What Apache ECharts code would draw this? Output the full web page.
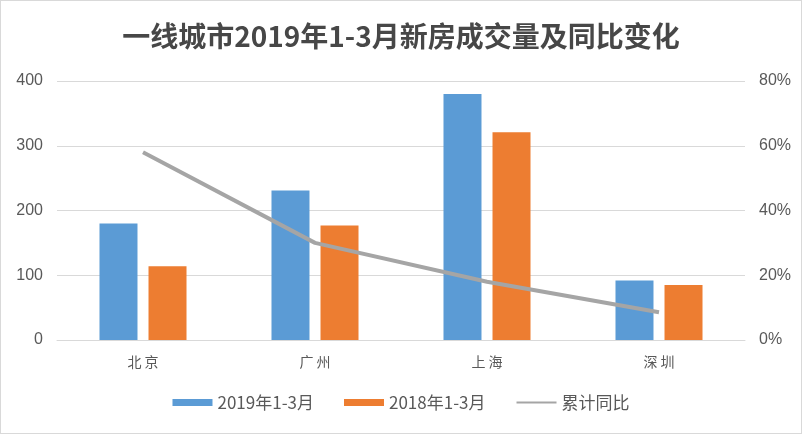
<!DOCTYPE html>
<html><head><meta charset="utf-8">
<script src="https://cdn.jsdelivr.net/npm/echarts@6/dist/echarts.min.js"></script>
<style>html,body{margin:0;padding:0;background:#fff}#c{width:800px;height:432px;border:1px solid #d9d9d9}</style>
</head><body><div id="c"></div>
<script>
const categories = ['北京', '广州', '上海', '深圳'];
const sales2019 = [180, 231, 380, 92];
const sales2018 = [114, 177, 321, 85];
const yoyPct = [58, 30, 18, 8.6];
const leftTicks = [0, 100, 200, 300, 400];
const rightTicks = [0, 20, 40, 60, 80];

const chart = echarts.init(document.getElementById('c'));
const txt = '#595959';
chart.setOption({
  animation: false,
  title: {
    text: '一线城市2019年1-3月新房成交量及同比变化',
    left: 'center', top: 16,
    textStyle: { fontFamily: 'Noto Sans CJK SC', fontWeight: 'bold', fontSize: 28, color: '#474747' }
  },
  legend: {
    bottom: 17, left: 'center', itemWidth: 40, itemHeight: 7, itemGap: 30, itemTextGap: 5,
    textStyle: { fontFamily: 'Noto Sans CJK SC', fontSize: 17, color: txt },
    data: [
      { name: '2019年1-3月', icon: 'rect' },
      { name: '2018年1-3月', icon: 'rect' },
      { name: '累计同比', itemStyle: { opacity: 0 } }
    ]
  },
  grid: { left: 56, right: 56, top: 80, bottom: 93, containLabel: false },
  xAxis: {
    type: 'category', data: categories,
    axisLine: { lineStyle: { color: '#d9d9d9' } },
    axisTick: { show: false },
    axisLabel: { color: txt, fontFamily: 'Noto Sans CJK SC', fontSize: 14, margin: 15,
      formatter: v => v.split('').join(' ') }
  },
  yAxis: [
    {
      type: 'value', min: leftTicks[0], max: leftTicks[leftTicks.length - 1], interval: 100,
      axisLine: { show: false }, axisTick: { show: false },
      splitLine: { lineStyle: { color: '#d9d9d9' } },
      axisLabel: { color: txt, fontFamily: 'Liberation Sans', fontSize: 16, margin: 14 }
    },
    {
      type: 'value', min: rightTicks[0], max: rightTicks[rightTicks.length - 1], interval: 20,
      axisLine: { show: false }, axisTick: { show: false },
      splitLine: { show: false },
      axisLabel: { color: txt, fontFamily: 'Liberation Sans', fontSize: 16, margin: 14, formatter: '{value}%' }
    }
  ],
  series: [
    { name: '2019年1-3月', type: 'bar', data: sales2019, barWidth: 38, barGap: '29%',
      itemStyle: { color: '#5b9bd5' } },
    { name: '2018年1-3月', type: 'bar', data: sales2018, barWidth: 38,
      itemStyle: { color: '#ed7d31' } },
    { name: '累计同比', type: 'line', yAxisIndex: 1, data: yoyPct, symbol: 'none',
      lineStyle: { color: '#a5a5a5', width: 4 }, itemStyle: { color: '#a5a5a5' } }
  ]
});
</script></body></html>
